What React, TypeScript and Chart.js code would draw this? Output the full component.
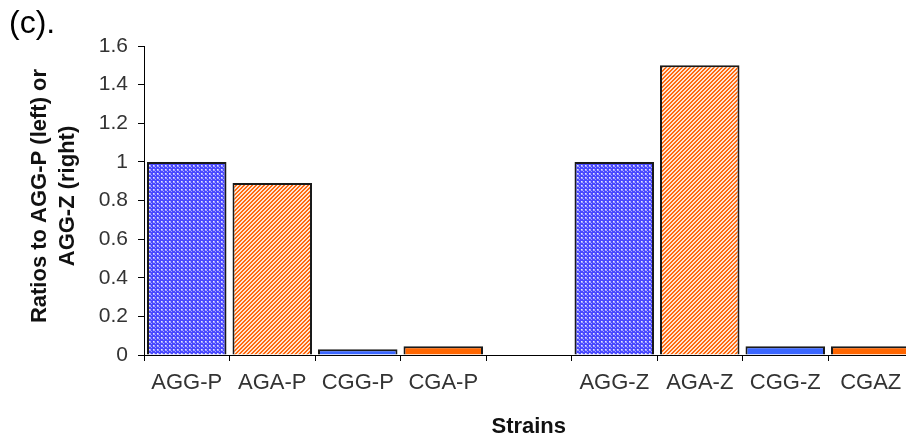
import React, { useEffect, useRef } from "react";
import { Chart, registerables } from "chart.js";

Chart.register(...registerables);

const categories: string[] = ["AGG-P", "AGA-P", "CGG-P", "CGA-P", "", "AGG-Z", "AGA-Z", "CGG-Z", "CGAZ"];
const ratios: (number | null)[] = [1.0, 0.89, 0.03, 0.045, null, 1.0, 1.5, 0.045, 0.045];
const barKinds: string[] = ["dots", "stripes", "blue", "orange", "none", "dots", "stripes", "blue", "orange"];
const yTicks: number[] = [0, 0.2, 0.4, 0.6, 0.8, 1, 1.2, 1.4, 1.6];
const panelLabel = "(c).";
const yTitleLines: string[] = ["Ratios to AGG-P (left) or", "AGG-Z (right)"];
const xTitle = "Strains";

const FONT = "'Liberation Sans', Arial, sans-serif";

function makeDotPattern(): CanvasPattern | string {
  const c = document.createElement("canvas");
  c.width = 4;
  c.height = 4;
  const g = c.getContext("2d");
  if (!g) return "#7070ff";
  g.fillStyle = "#4a4aff";
  g.fillRect(0, 0, 4, 4);
  g.fillStyle = "#a4a4ff";
  g.fillRect(1, 1, 2, 2);
  g.fillRect(3, 3, 1, 1);
  g.fillStyle = "#e8e8ff";
  g.fillRect(1, 1, 1, 1);
  const p = g.createPattern(c, "repeat");
  return p || "#7070ff";
}

function makeStripePattern(): CanvasPattern | string {
  const c = document.createElement("canvas");
  c.width = 4;
  c.height = 4;
  const g = c.getContext("2d");
  if (!g) return "#ff8a40";
  for (let x = 0; x < 4; x++) {
    for (let y = 0; y < 4; y++) {
      const m = (x + y) % 4;
      g.fillStyle = m < 2 ? "#ff6a10" : "#ffe4d0";
      g.fillRect(x, y, 1, 1);
    }
  }
  const p = g.createPattern(c, "repeat");
  return p || "#ff8a40";
}

export default function App() {
  const ref = useRef<HTMLCanvasElement | null>(null);

  useEffect(() => {
    if (!ref.current) return;
    const dots = makeDotPattern();
    const stripes = makeStripePattern();
    const fills = barKinds.map((k) =>
      k === "dots" ? dots : k === "stripes" ? stripes : k === "blue" ? "#3a66ff" : k === "orange" ? "#ff6600" : "rgba(0,0,0,0)"
    );

    const textPlugin = {
      id: "texts",
      afterDraw(chart: any) {
        const ctx = chart.ctx as CanvasRenderingContext2D;
        const area = chart.chartArea;
        ctx.save();
        ctx.fillStyle = "#000";
        ctx.font = `32px ${FONT}`;
        ctx.textAlign = "left";
        ctx.textBaseline = "alphabetic";
        ctx.fillText(panelLabel, 9, 33);

        ctx.font = `bold 22px ${FONT}`;
        ctx.textAlign = "center";
        ctx.textBaseline = "middle";
        ctx.fillStyle = "#111";
        ctx.fillText(xTitle, (area.left + area.right) / 2, 427);

        ctx.translate(0, 196);
        ctx.rotate(-Math.PI / 2);
        ctx.fillText(yTitleLines[0], 0, 40);
        ctx.fillText(yTitleLines[1], 0, 68);
        ctx.restore();
      },
    };

    const chart = new Chart(ref.current, {
      type: "bar",
      data: {
        labels: categories,
        datasets: [
          {
            data: ratios,
            backgroundColor: fills as any,
            borderColor: "#1a1a1a",
            borderWidth: 2,
            barPercentage: 0.93,
            categoryPercentage: 1,
          },
        ],
      },
      options: {
        responsive: false,
        animation: false,
        devicePixelRatio: 1,
        layout: { padding: { top: 46, right: 16.5, left: 0, bottom: 0 } },
        plugins: { legend: { display: false }, tooltip: { enabled: false } },
        scales: {
          x: {
            grid: { display: true, drawOnChartArea: false, drawTicks: true, tickLength: 6, color: "#000", offset: true },
            border: { display: true, color: "#000", width: 1 },
            ticks: { color: "#333", font: { family: FONT, size: 22 }, padding: 9, maxRotation: 0, autoSkip: false },
            afterFit(scale: any) {
              scale.height = 87;
            },
          },
          y: {
            min: 0,
            max: 1.6,
            afterBuildTicks(scale: any) {
              scale.ticks = yTicks.map((v) => ({ value: v }));
            },
            grid: { display: true, drawOnChartArea: false, drawTicks: true, tickLength: 6, color: "#000" },
            border: { display: true, color: "#000", width: 1 },
            ticks: {
              color: "#333",
              font: { family: FONT, size: 21 },
              padding: 10,
              callback: (v: any) => String(Number(Number(v).toFixed(1))),
            },
            afterFit(scale: any) {
              scale.width = 144;
            },
          },
        },
      },
      plugins: [textPlugin],
    });
    return () => chart.destroy();
  }, []);

  return (
    <div style={{ position: "absolute", left: 0, top: 0, width: 906, height: 442, overflow: "hidden", background: "#fff" }}>
      <canvas ref={ref} width={930} height={442} style={{ display: "block", width: 930, height: 442 }} />
    </div>
  );
}
